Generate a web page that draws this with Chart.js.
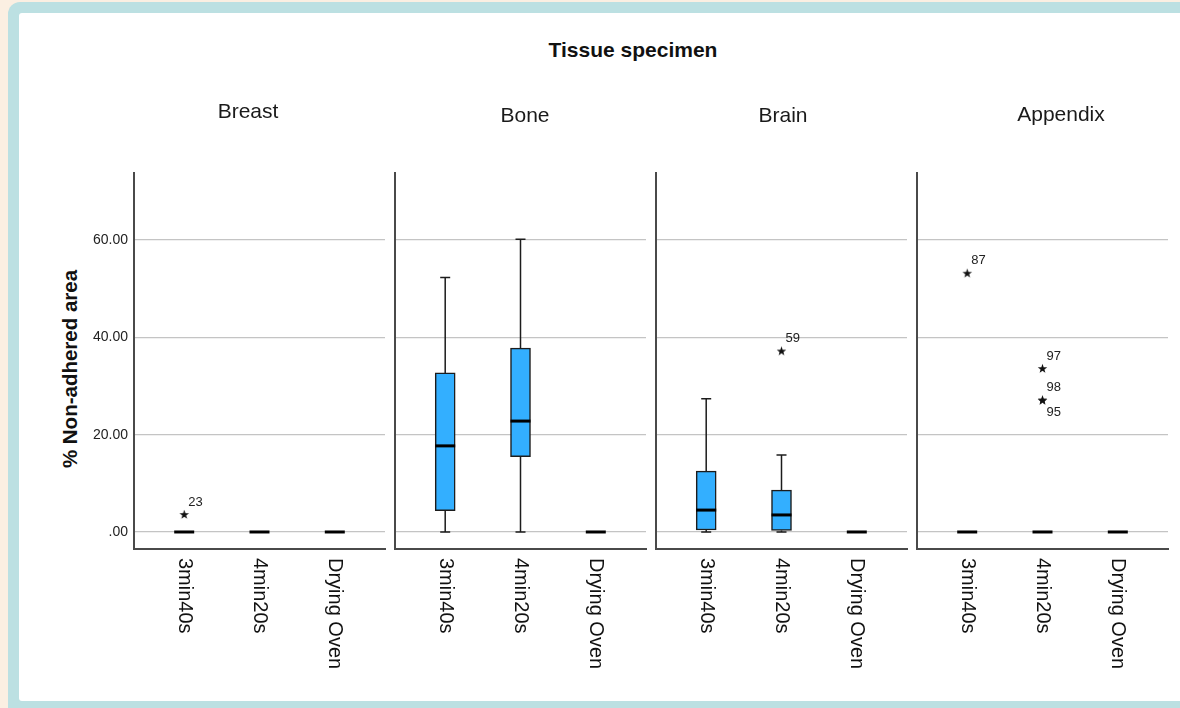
<!DOCTYPE html>
<html>
<head>
<meta charset="utf-8">
<script src="https://cdn.jsdelivr.net/npm/chart.js@4/dist/chart.umd.min.js"></script>
<style>
  body { margin: 0; width: 1180px; height: 708px; overflow: hidden; background: #FBEFE2; position: relative; font-family: "Liberation Sans", Arial, sans-serif; }
  .frame { position: absolute; left: 8px; top: 2px; width: 1200px; height: 730px; background: #BCE0E2; border-radius: 12px; }
  .inner { position: absolute; left: 19px; top: 13px; width: 1200px; height: 688px; background: #fff; border-radius: 3px; }
  canvas { position: absolute; left: 0; top: 0; }
  .mainTitle { position: absolute; left: 0; width: 1266px; top: 38px; text-align: center; font-weight: bold; font-size: 21px; color: #111; }
  .yTitle { position: absolute; left: 70px; top: 369px; transform: translate(-50%, -50%) rotate(-90deg); white-space: nowrap; font-weight: bold; font-size: 20.5px; color: #111; }
</style>
</head>
<body>
<div class="frame"></div>
<div class="inner"></div>
<div class="mainTitle">Tissue specimen</div>
<div class="yTitle">% Non-adhered area</div>
<canvas id="p0" width="1180" height="708"></canvas>
<canvas id="p1" width="1180" height="708"></canvas>
<canvas id="p2" width="1180" height="708"></canvas>
<canvas id="p3" width="1180" height="708"></canvas>
<script>
// ── Datos ─────────────────────────────
const groups  = ['3min40s', '4min20s', 'Drying Oven'];
const tissues = ['Breast', 'Bone', 'Brain', 'Appendix'];
const yTicks  = [0, 20, 40, 60];

// [whisker bajo, Q1, mediana, Q3, whisker alto] por grupo
const breastBox   = [[0, 0, 0, 0, 0],      [0, 0, 0, 0, 0],       [0, 0, 0, 0, 0]];
const boneBox     = [[0, 4.4, 17.7, 32.7, 52.3], [0, 15.5, 22.8, 37.8, 60.2], [0, 0, 0, 0, 0]];
const brainBox    = [[0, 0.4, 4.5, 12.5, 27.4],  [0, 0.3, 3.5, 8.6, 15.8],    [0, 0, 0, 0, 0]];
const appendixBox = [[0, 0, 0, 0, 0],      [0, 0, 0, 0, 0],       [0, 0, 0, 0, 0]];

// valores extremos: [grupo, valor, caso, lado etiqueta]
const breastOut   = [[0, 3.6, '23', 'up']];
const boneOut     = [];
const brainOut    = [[1, 37.2, '59', 'up']];
const appendixOut = [[0, 53.2, '87', 'up'], [1, 33.6, '97', 'up'], [1, 27.1, '98', 'up'], [1, 27.1, '95', 'down']];

const boxes    = [breastBox, boneBox, brainBox, appendixBox];
const extremes = [breastOut, boneOut, brainOut, appendixOut];

// ── Layout ────────────────────────────
const panelLeft  = [134, 395, 656, 917];
const panelWidth = 251;
const plotTop = 173, plotBottom = 549;
const yAxisW = 70;
const titlePos = [[248, 112], [525, 116], [783, 116], [1061, 115]];

const FONT = '"Liberation Sans", Arial, sans-serif';
const BLUE = '#33AFFF';
const INK  = '#1c1c1c';

Chart.defaults.font.family = FONT;

// marcador de extremo: estrella de 5 puntas
const starImg = document.createElement('canvas');
starImg.width = 11; starImg.height = 11;
(() => {
  const c = starImg.getContext('2d');
  c.fillStyle = '#111';
  c.beginPath();
  for (let i = 0; i < 10; i++) {
    const r = i % 2 === 0 ? 5 : 2;
    const a = -Math.PI / 2 + i * Math.PI / 5;
    c.lineTo(5.5 + r * Math.cos(a), 5.8 + r * Math.sin(a));
  }
  c.closePath();
  c.fill();
})();

const boxPlugin = {
  id: 'boxParts',
  beforeDatasetsDraw(chart) {
    const { ctx, scales: { x, y } } = chart;
    const box = boxes[chart.options.panel];
    ctx.save();
    ctx.strokeStyle = INK;
    ctx.lineWidth = 1.5;
    box.forEach((b, j) => {
      if (b[4] === b[0]) return;
      const cx = x.getPixelForValue(j);
      ctx.beginPath();
      ctx.moveTo(cx, y.getPixelForValue(b[0])); ctx.lineTo(cx, y.getPixelForValue(b[1]));
      ctx.moveTo(cx, y.getPixelForValue(b[3])); ctx.lineTo(cx, y.getPixelForValue(b[4]));
      [b[0], b[4]].forEach(v => {
        const py = y.getPixelForValue(v);
        ctx.moveTo(cx - 5, py); ctx.lineTo(cx + 5, py);
      });
      ctx.stroke();
    });
    ctx.restore();
  },
  afterDatasetsDraw(chart) {
    const { ctx, scales: { x, y }, chartArea } = chart;
    const p = chart.options.panel;
    ctx.save();
    // medianas
    ctx.strokeStyle = '#000';
    ctx.lineWidth = 3;
    boxes[p].forEach((b, j) => {
      const cx = x.getPixelForValue(j);
      const py = y.getPixelForValue(b[2]);
      ctx.beginPath();
      ctx.moveTo(cx - 10, py); ctx.lineTo(cx + 10, py);
      ctx.stroke();
    });
    // etiquetas de casos extremos
    ctx.fillStyle = '#222';
    ctx.font = '13px ' + FONT;
    ctx.textAlign = 'left';
    ctx.textBaseline = 'middle';
    extremes[p].forEach(o => {
      const px = x.getPixelForValue(o[0]);
      const py = y.getPixelForValue(o[1]);
      ctx.fillText(o[2], px + 4, py + (o[3] === 'up' ? -12.5 : 12.5));
    });
    // etiquetas de grupo, giradas
    ctx.fillStyle = '#111';
    ctx.font = '20px ' + FONT;
    groups.forEach((g, j) => {
      ctx.save();
      ctx.translate(x.getPixelForValue(j), chartArea.bottom + 9);
      ctx.rotate(Math.PI / 2);
      ctx.fillText(g, 0, 0);
      ctx.restore();
    });
    // título del panel
    ctx.font = '21px ' + FONT;
    ctx.fillStyle = '#1a1a1a';
    ctx.textAlign = 'center';
    ctx.fillText(tissues[p], titlePos[p][0], titlePos[p][1]);
    ctx.restore();
  }
};

tissues.forEach((t, p) => {
  const box = boxes[p];
  const axisW = p === 0 ? yAxisW : 0;
  new Chart(document.getElementById('p' + p), {
    type: 'bar',
    data: {
      datasets: [
        {
          data: box.map((b, j) => ({ x: j, y: [b[1], b[3]] })).filter(d => d.y[1] > d.y[0]),
          backgroundColor: BLUE,
          borderColor: INK,
          borderWidth: 1.5,
          borderSkipped: false,
          barThickness: 20,
        },
        {
          type: 'scatter',
          data: extremes[p].map(o => ({ x: o[0], y: o[1] })),
          pointStyle: starImg,
        }
      ]
    },
    options: {
      panel: p,
      responsive: false,
      animation: false,
      events: [],
      layout: {
        padding: { left: panelLeft[p] - axisW, right: 1180 - panelLeft[p] - panelWidth, top: plotTop, bottom: 708 - plotBottom }
      },
      plugins: { legend: { display: false }, tooltip: { enabled: false } },
      scales: {
        x: {
          type: 'linear',
          offset: false,
          min: -2 / 3,
          max: 8 / 3,
          grid: { display: false },
          ticks: { display: false },
          border: { color: '#4a4a4a', width: 2 },
          afterFit: s => { s.height = 0; }
        },
        y: {
          min: -3.5,
          max: 73.8,
          afterBuildTicks: s => { s.ticks = yTicks.map(v => ({ value: v })); },
          afterFit: s => { s.width = axisW; },
          grid: { color: '#c4c4c4', lineWidth: 1.3, drawTicks: false },
          border: { color: '#4a4a4a', width: 2 },
          ticks: {
            display: p === 0,
            padding: 6,
            color: '#222',
            font: { size: 14 },
            callback: v => v === 0 ? '.00' : v.toFixed(2)
          }
        }
      }
    },
    plugins: [boxPlugin]
  });
});
</script>
</body>
</html>
